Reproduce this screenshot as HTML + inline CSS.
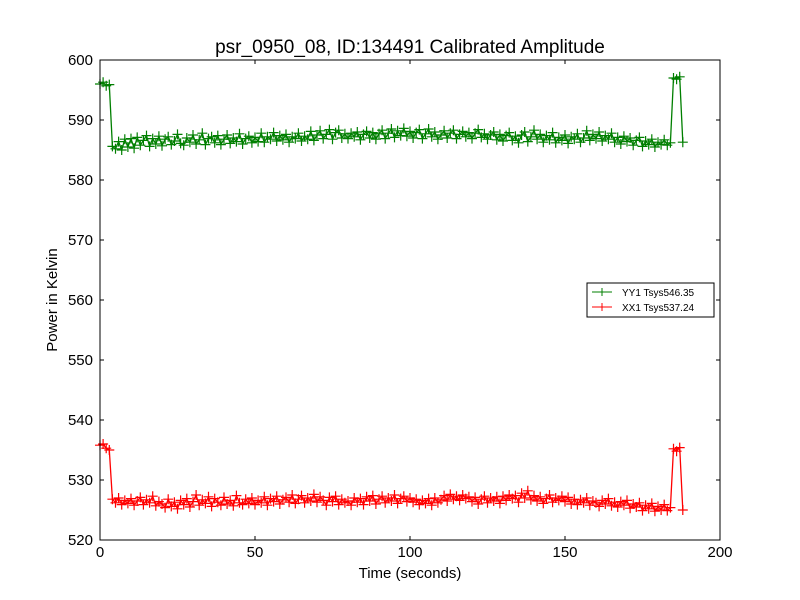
<!DOCTYPE html>
<html><head><meta charset="utf-8">
<style>
html,body{margin:0;padding:0;background:#fff;}
svg{display:block;font-family:"Liberation Sans","DejaVu Sans",sans-serif;}
</style></head>
<body>
<svg id="chart" width="800" height="600" viewBox="0 0 800 600" xmlns="http://www.w3.org/2000/svg">
<rect x="0" y="0" width="800" height="600" fill="#fff"/>
<text x="410" y="53" font-size="19" text-anchor="middle">psr_0950_08, ID:134491 Calibrated Amplitude</text>
<g id="plot"></g>
<rect x="100" y="60" width="620" height="480" fill="none" stroke="#000" stroke-width="1"/>
<text x="410" y="578" font-size="15" text-anchor="middle">Time (seconds)</text>
<text x="57" y="300" font-size="15" text-anchor="middle" transform="rotate(-90 57 300)">Power in Kelvin</text>
<g>
<rect x="587" y="283" width="127" height="34" fill="#fff" stroke="#000" stroke-width="1"/>
<line x1="592" y1="292" x2="612" y2="292" stroke="#007f00"/>
<line x1="602" y1="288" x2="602" y2="296" stroke="#007f00"/>
<text x="622" y="296" font-size="10">YY1 Tsys546.35</text>
<line x1="592" y1="307" x2="612" y2="307" stroke="#ff0000"/>
<line x1="602" y1="303" x2="602" y2="311" stroke="#ff0000"/>
<text x="622" y="311" font-size="10">XX1 Tsys537.24</text>
</g>
</svg>
<script>
const xTicks=[0,50,100,150,200];
const yTicks=[520,530,540,550,560,570,580,590,600];
const yy1=[596.0,596.3,595.7,595.9,585.6,585.2,586.4,585.0,586.8,585.5,
586.9,585.3,587.1,585.8,586.6,587.4,585.6,586.9,586.0,587.3,
585.7,586.8,587.2,585.9,586.5,587.6,586.1,585.8,587.0,586.3,
587.5,586.0,586.7,587.8,585.9,586.9,587.2,586.2,587.4,585.9,
586.8,587.5,586.1,587.0,586.4,587.7,586.0,586.9,587.3,586.2,
587.1,586.4,587.8,586.3,587.2,586.8,587.9,586.5,587.4,586.7,
587.6,586.3,587.2,586.9,587.8,586.5,587.3,586.8,588.1,586.6,
587.5,588.2,586.9,587.6,588.4,586.8,587.9,588.3,587.0,587.7,
586.9,587.8,587.2,588.0,586.7,587.6,588.1,587.0,587.9,586.8,
587.7,588.3,586.9,587.8,588.5,587.1,588.2,587.4,588.6,587.3,
588.1,587.0,587.9,588.4,586.9,587.7,588.5,587.2,588.0,586.8,
587.5,588.2,587.0,587.8,588.3,586.9,587.6,588.1,587.2,587.9,
586.9,587.8,588.4,587.1,587.7,586.8,587.5,588.0,586.7,587.6,
586.5,587.4,587.9,586.6,587.3,586.2,587.5,588.0,586.4,587.2,
588.3,586.8,587.6,586.3,587.4,586.7,587.9,586.2,587.1,586.6,
587.5,586.1,587.2,586.8,587.7,586.3,587.0,588.2,586.6,587.6,
586.9,588.0,586.5,587.4,586.8,587.8,586.3,587.1,586.0,587.3,
586.4,587.0,585.8,586.6,587.1,585.6,586.5,585.9,586.8,585.5,
586.3,585.9,586.7,585.8,586.2,597.0,596.8,597.2,586.3];
const xx1=[535.8,536.0,535.3,535.0,526.8,526.2,527.0,525.9,526.6,526.1,
526.9,525.8,526.5,527.1,525.9,526.7,526.2,527.3,525.7,526.4,
526.0,525.4,526.8,525.6,526.3,525.2,526.6,525.9,526.9,525.5,
526.4,527.5,525.8,526.7,526.1,527.2,525.6,526.9,526.3,525.8,
527.1,526.0,526.6,525.7,527.4,526.2,525.9,526.8,526.1,527.0,
525.9,526.6,526.2,527.2,525.8,526.9,526.4,527.3,526.0,526.7,
527.1,526.3,527.5,526.1,526.8,527.4,526.2,527.0,526.5,527.6,
526.3,527.2,526.6,525.8,527.1,526.4,527.3,525.9,526.8,526.2,
526.5,525.8,527.0,526.3,526.9,525.9,527.2,526.5,527.4,526.0,
526.8,527.3,526.2,527.0,526.5,527.5,526.1,526.9,527.3,526.4,
527.0,526.3,526.8,525.9,526.6,526.1,526.9,525.8,527.0,526.2,
526.7,527.4,526.5,527.6,526.8,527.3,526.6,527.5,526.9,527.2,
526.4,527.1,526.0,526.8,527.3,526.2,527.0,526.5,527.2,526.1,
527.3,526.6,527.5,526.9,527.4,526.3,527.8,527.0,528.2,526.7,
527.4,526.5,527.2,526.1,526.9,527.5,526.3,527.0,526.6,527.3,
526.4,527.1,526.0,526.8,525.9,526.7,526.2,527.0,525.8,526.5,
526.2,525.6,526.6,526.0,526.9,525.7,526.3,525.5,526.4,525.8,
526.6,525.3,526.0,525.5,526.2,524.9,525.8,525.2,526.1,524.8,
525.6,525.0,525.9,524.9,525.4,535.2,534.8,535.4,525.0];
const NS="http://www.w3.org/2000/svg";
const X=v=>100+(v-0)/(200-0)*620;
const Y=v=>540-(v-520)/(600-520)*480;
const plot=document.getElementById('plot');
function mk(tag,attrs){const e=document.createElementNS(NS,tag);for(const k in attrs)e.setAttribute(k,attrs[k]);plot.appendChild(e);return e;}
function series(vals,color,name){
  const pts=vals.map((v,i)=>X(i).toFixed(2)+','+Y(v).toFixed(2)).join(' ');
  const pl=mk('polyline',{points:pts,fill:'none',stroke:color,'stroke-width':1.3});
  
  
  let d='';
  vals.forEach((v,i)=>{const x=X(i),y=Y(v);d+=`M${x-5},${y}H${x+5}M${x},${y-5}V${y+5}`;});
  const m=mk('path',{d:d,stroke:color,'stroke-width':1.2,fill:'none'});
  
  
}
series(yy1,'#007f00','yy1-series');
series(xx1,'#ff0000','xx1-series');
const svg=document.getElementById('chart');
function mt(tag,attrs,txt){const e=document.createElementNS(NS,tag);for(const k in attrs)e.setAttribute(k,attrs[k]);if(txt!==undefined)e.textContent=txt;svg.appendChild(e);return e;}
xTicks.forEach(t=>{
  const x=X(t);
  const a=mt('line',{x1:x,y1:540,x2:x,y2:536,stroke:'#000'});
  
  
  const b=mt('line',{x1:x,y1:60,x2:x,y2:64,stroke:'#000'});
  
  
  const l=mt('text',{x:x,y:557,'font-size':15,'text-anchor':'middle'},String(t));
  
  
});
yTicks.forEach(t=>{
  const y=Y(t);
  const a=mt('line',{x1:100,y1:y,x2:104,y2:y,stroke:'#000'});
  
  
  const b=mt('line',{x1:720,y1:y,x2:716,y2:y,stroke:'#000'});
  
  
  const l=mt('text',{x:93,y:y+5,'font-size':15,'text-anchor':'end'},String(t));
  
  
});
</script>
</body></html>
